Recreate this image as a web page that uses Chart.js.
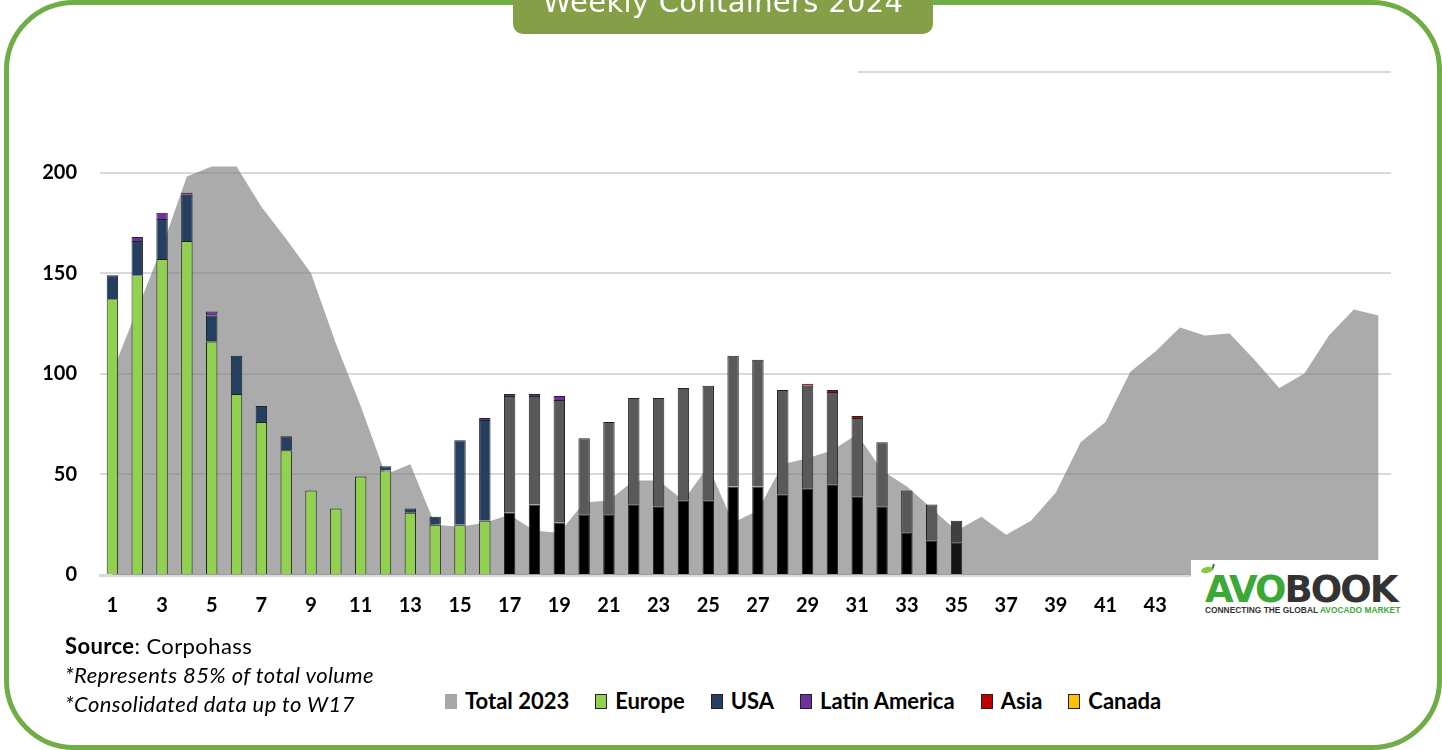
<!DOCTYPE html>
<html>
<head>
<meta charset="utf-8">
<title>Weekly Containers 2024</title>
<script src="https://cdn.jsdelivr.net/npm/chart.js@4.4.1/dist/chart.umd.min.js"></script>
<style>
  html, body { margin: 0; padding: 0; background: #fff; }
  body { width: 1442px; height: 750px; position: relative; overflow: hidden; font-family: Lato, "Open Sans", sans-serif; color: #000; }
  .chart-box { position: absolute; left: 0; top: 0; width: 1442px; height: 640px; }
  .frame { position: absolute; left: 4px; top: 0; width: 1438px; height: 750px; box-sizing: border-box; border: 5px solid #70ad47; border-radius: 70px; pointer-events: none; }
  .title-tab { position: absolute; left: 513px; top: 0; width: 420px; height: 34px; background: #849f46; border-radius: 0 0 10px 10px; overflow: hidden; }
  .title-tab span { position: absolute; left: 0; right: 0; top: -12px; text-align: center; color: #fff; font: 29px/28px "DejaVu Sans", sans-serif; letter-spacing: 0.3px; }
  .notes { position: absolute; left: 65px; top: 631px; font-size: 22px; line-height: 29px; letter-spacing: 0.4px; }
  .notes i { font-style: italic; }
  .legend { position: absolute; left: 445px; top: 689px; display: flex; align-items: center; gap: 26px; font-size: 22px; font-weight: bold; line-height: 24px; }
  .legend .item { display: flex; align-items: center; gap: 8px; }
  .legend .sw { width: 12px; height: 15px; box-sizing: border-box; }
  .logo { position: absolute; left: 1191px; top: 560px; width: 219px; height: 62px; background: #fff; }
  .logo .word { position: absolute; left: 14px; top: 11px; font: bold 37px/37px "DejaVu Sans", sans-serif; letter-spacing: -2px; }
  .logo .tag { position: absolute; left: 14px; top: 46px; font: bold 8.4px/9px "Liberation Sans", sans-serif; color: #333; white-space: nowrap; }
  .logo .leaf { position: absolute; left: 10px; top: 7px; width: 12px; height: 6px; background: #8dc63f; border-radius: 50%; transform: rotate(-12deg); }
  .logo .stem { position: absolute; left: 21px; top: 4px; width: 2px; height: 6px; background: #2f7d32; transform: rotate(20deg); }
  .green { color: #3aa935; }
</style>
</head>
<body>
<div class="chart-box"><canvas id="chart"></canvas></div>

<div class="notes">
  <div><b>Source</b>: Corpohass</div>
  <div><i>*Represents 85% of total volume</i></div>
  <div><i>*Consolidated data up to W17</i></div>
</div>
<div class="legend" id="legend"></div>

<div class="logo">
  <div class="stem"></div>
  <div class="leaf"></div>
  <div class="word"><span class="green">AVO</span><span style="color:#333">BOOK</span></div>
  <div class="tag">CONNECTING THE GLOBAL <span class="green">AVOCADO MARKET</span></div>
</div>

<div class="frame"></div>
<div class="title-tab"><span>Weekly Containers 2024</span></div>

<script>
const weeks = ['1','2','3','4','5','6','7','8','9','10','11','12','13','14','15','16','17','18','19','20',
  '21','22','23','24','25','26','27','28','29','30','31','32','33','34','35','36','37','38','39','40',
  '41','42','43','44','45','46','47','48','49','50','51','52']

// 2023 totals, drawn as the grey area
const total2023 = [101,132,163,198,203,203,183,167,150,115,84,50,55,25,24,26,30,22,21,36,
  37,47,47,37,54,26,32,55,58,62,70,52,44,33,22,29,20,27,41,66,
  76,101,111,123,119,120,107,93,100,119,132,129]

// 2024 shipments by destination (weeks 1-35)
const europe = [137,149,157,166,116,90,76,62,42,33,49,52,31,25,25,27,31,35,26,30,
  30,35,34,37,37,44,44,40,43,45,39,34,21,17,16]
const usa = [12,17,20,23,13,19,8,7,0,0,0,2,2,4,42,50,58,54,61,38,
  46,53,54,56,57,65,63,52,51,46,39,32,21,18,11]
const latinAmerica = [0,2,3,1,2,0,0,0,0,0,0,0,0,0,0,1,1,1,2,0,
  0,0,0,0,0,0,0,0,0,0,0,0,0,0,0]
const asia = [0,0,0,0,0,0,0,0,0,0,0,0,0,0,0,0,0,0,0,0,
  0,0,0,0,0,0,0,0,1,1,1,0,0,0,0]
const canada = [0,0,0,0,0,0,0,0,0,0,0,0,0,0,0,0,0,0,0,0,
  0,0,0,0,0,0,0,0,0,0,0,0,0,0,0]

const yTicks = [0, 50, 100, 150, 200, 250]

// from W17 on the sheet shades Europe / USA in black and dark grey
const lastColouredWeek = 16
const europeColors = europe.map((_, i) => i < lastColouredWeek ? "#92d050" : (i === 34 ? "#141414" : "#000000"))
const usaColors = usa.map((_, i) => i < lastColouredWeek ? "#243f60" : (i === 34 ? "#404040" : "#595959"))

const FONT = "Lato, 'Open Sans', sans-serif"

function barSet(label, data, color, legendColor) {
  return {
    type: "bar",
    label,
    data,
    backgroundColor: color,
    borderColor: "#222222",
    borderWidth: 1,
    stack: "ship",
    order: 1,
    barPercentage: 0.46,
    categoryPercentage: 1,
    legendColor: legendColor || color,
    legendBorder: true
  }
}

// top gridline only shows on the right part (left part sits under a text box)
const partialTopLine = {
  id: "partialTopLine",
  beforeDatasetsDraw(chart) {
    const { ctx, chartArea, scales } = chart
    const py = scales.y.getPixelForValue(scales.y.max)
    ctx.save()
    ctx.strokeStyle = "#d9d9d9"
    ctx.lineWidth = 2
    ctx.beginPath()
    ctx.moveTo(858, py)
    ctx.lineTo(chartArea.right, py)
    ctx.stroke()
    ctx.restore()
  }
}

const chart = new Chart(document.getElementById("chart").getContext("2d"), {
  data: {
    labels: weeks,
    datasets: [
      {
        type: "line",
        label: "Total 2023",
        data: total2023,
        fill: "origin",
        backgroundColor: "rgba(128, 128, 128, 0.66)",
        borderWidth: 0,
        pointRadius: 0,
        tension: 0,
        stack: "total",
        order: 2,
        legendColor: "#a6a6a6",
        legendBorder: false
      },
      barSet("Europe", europe, europeColors, "#92d050"),
      barSet("USA", usa, usaColors, "#243f60"),
      barSet("Latin America", latinAmerica, "#7030a0"),
      barSet("Asia", asia, "#c00000"),
      barSet("Canada", canada, "#ffc000")
    ]
  },
  options: {
    responsive: true,
    maintainAspectRatio: false,
    animation: false,
    layout: { padding: { left: 40, right: 51, top: 72, bottom: 0 } },
    plugins: {
      legend: { display: false },
      tooltip: { enabled: false }
    },
    scales: {
      x: {
        stacked: true,
        grid: { display: false, drawTicks: false },
        border: { display: true, color: "#d9d9d9", width: 3 },
        ticks: {
          autoSkip: false,
          maxRotation: 0,
          padding: 19,
          color: "#000",
          font: { family: FONT, size: 20, weight: "bold" },
          callback: (value, index) => index % 2 === 0 ? weeks[index] : ""
        },
        afterFit: (scale) => { scale.height = 65 }
      },
      y: {
        stacked: true,
        min: yTicks[0],
        max: yTicks[yTicks.length - 1],
        afterBuildTicks: (scale) => { scale.ticks = yTicks.map(v => ({ value: v })) },
        grid: {
          drawTicks: false,
          lineWidth: 2,
          color: (ctx) => ctx.tick && ctx.tick.value === 250 ? "rgba(0,0,0,0)" : "#d9d9d9"
        },
        border: { display: false },
        ticks: {
          padding: 23,
          color: "#000",
          font: { family: FONT, size: 20, weight: "bold" },
          callback: (value) => value === 250 ? "" : value
        },
        afterFit: (scale) => { scale.width = 60 }
      }
    }
  },
  plugins: [partialTopLine]
})

// HTML legend built from the datasets
function buildLegend(chart) {
  const box = document.getElementById("legend")
  box.innerHTML = ""
  chart.data.datasets.forEach((ds) => {
    const item = document.createElement("span")
    item.className = "item"
    const sw = document.createElement("span")
    sw.className = "sw"
    sw.style.background = ds.legendColor
    if (ds.legendBorder) sw.style.border = "1px solid #222"
    const txt = document.createElement("span")
    txt.textContent = ds.label
    item.appendChild(sw)
    item.appendChild(txt)
    box.appendChild(item)
  })
}
buildLegend(chart)
</script>
</body>
</html>
